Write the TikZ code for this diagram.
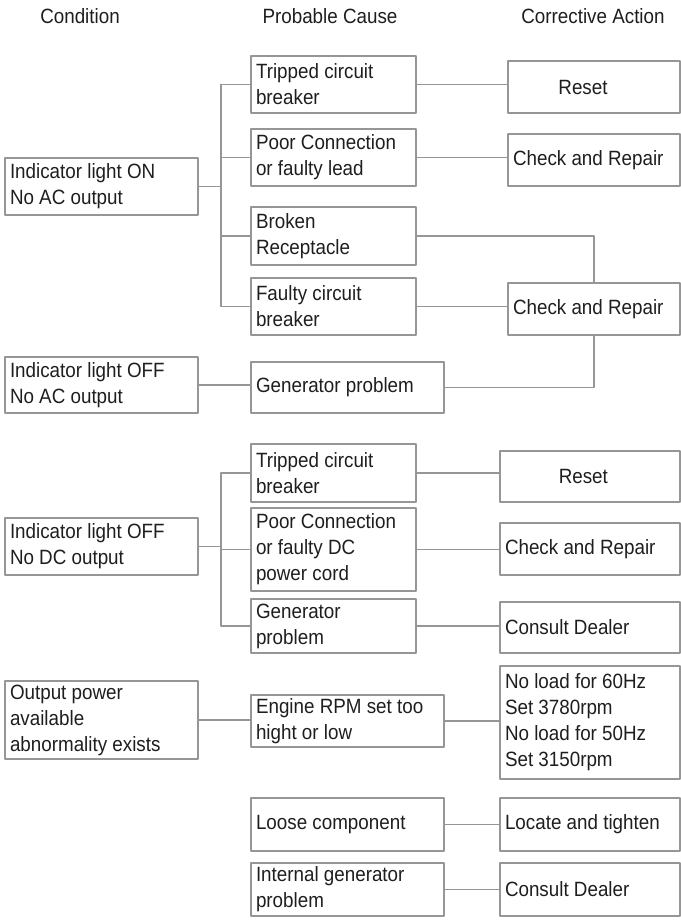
\documentclass[tikz,border=0pt]{standalone}
\usepackage{fontspec}
\setmainfont{Liberation Sans}[FakeStretch=0.91]
\definecolor{linegray}{RGB}{150,150,150}
\definecolor{txtcol}{RGB}{30,30,30}

\begin{document}
\begin{tikzpicture}[x=0.75pt, y=-0.75pt, line cap=round, line join=round]
    % branch line x position
    \def\bx{221}

    \tikzset{
        box/.style={draw=linegray, line width=0.8pt, inner xsep=3.75pt, inner ysep=0pt,
            align=flush left, text=txtcol, font=\fontsize{15.5pt}{19.5pt}\selectfont},
        condbox/.style={box, text width=137.25pt},
        causebox/.style={box, text width=116.25pt},
        causewide/.style={box, text width=137.25pt},
        actbox/.style={box, text width=121.5pt},
        actwide/.style={box, text width=127.5pt},
        head/.style={text=txtcol, font=\fontsize{15.5pt}{18pt}\selectfont},
        link/.style={draw=linegray, line width=0.8pt}
    }

    \useasboundingbox (0,0) rectangle (681,920);

    % headers
    \node[head] (hcond)  at (80,16)  {Condition};
    \node[head] (hcause) at (330,16) {Probable Cause};
    \node[head] (hact)   at (593,16) {Corrective Action};

    % indicator light ON / OFF, no AC output
    \node[condbox, minimum height=42.75pt] (c1) at (101.5,186.5) {Indicator light ON\\No AC output};
    \node[causebox, minimum height=42.75pt] (p1) at (333.5,84.5) {Tripped circuit\\breaker};
    \node[causebox, minimum height=42.75pt] (p2) at (333.5,157.5) {Poor Connection\\or faulty lead};
    \node[causebox, minimum height=43.5pt] (p3) at (333.5,236) {Broken\\Receptacle};
    \node[causebox, minimum height=42.75pt] (p4) at (333.5,306.5) {Faulty circuit\\breaker};
    \node[actbox, align=center, minimum height=39pt] (a1) at (594,87) {\hspace*{-16.5pt}Reset};
    \node[actbox, minimum height=39pt] (a2) at (594,160) {Check and Repair};
    \node[actbox, minimum height=39pt] (a3) at (594,309) {Check and Repair};
    \node[condbox, minimum height=42pt] (c2) at (101.5,385) {Indicator light OFF\\No AC output};
    \node[causewide, minimum height=38.25pt] (p5) at (347.5,387.5) {Generator problem};

    \coordinate (b1) at (\bx,186.5);
    \draw[link] (c1.east) -- (b1);
    \draw[link] (b1) |- (p1.west);
    \draw[link] (b1) |- (p2.west);
    \draw[link] (b1) |- (p3.west);
    \draw[link] (b1) |- (p4.west);
    \draw[link] (p1.east) -- (p1.east -| a1.west);
    \draw[link] (p2.east) -- (p2.east -| a2.west);
    \draw[link] (p3.east) -| (a3.north);
    \draw[link] (p4.east) -- (p4.east -| a3.west);
    \draw[link] (c2.east) -- (c2.east -| p5.west);
    \draw[link] (p5.east) -| (a3.south);

    % indicator light OFF, no DC output
    \node[condbox, minimum height=42.75pt] (c3) at (101.5,546.5) {Indicator light OFF\\No DC output};
    \node[causebox, minimum height=43.5pt] (p6) at (333.5,473) {Tripped circuit\\breaker};
    \node[causebox, minimum height=62.25pt] (p7) at (333.5,549.5) {Poor Connection\\or faulty DC\\power cord};
    \node[causebox, minimum height=40.5pt] (p8) at (333.5,626) {Generator\\problem};
    \node[actwide, align=center, minimum height=38.25pt] (a4) at (590,476.5) {\hspace*{-10pt}Reset};
    \node[actwide, minimum height=39pt] (a5) at (590,549) {Check and Repair};
    \node[actwide, minimum height=38.25pt] (a6) at (590,627.5) {Consult Dealer};

    \coordinate (b2) at (\bx,546.5);
    \draw[link] (c3.east) -- (b2);
    \draw[link] (b2) |- (p6.west);
    \draw[link] (b2) |- (p7.west);
    \draw[link] (b2) |- (p8.west);
    \draw[link] (p6.east) -- (p6.east -| a4.west);
    \draw[link] (p7.east) -- (p7.east -| a5.west);
    \draw[link] (p8.east) -- (p8.east -| a6.west);

    % output power abnormality
    \node[condbox, minimum height=58.5pt] (c4) at (101.5,720) {Output power\\available\\abnormality exists};
    \node[causewide, minimum height=39pt] (p9) at (347.5,721) {Engine RPM set too\\hight or low};
    \node[actwide, minimum height=84.75pt] (a7) at (590,722.5) {No load for 60Hz\\Set 3780rpm\\No load for 50Hz\\Set 3150rpm};
    \node[causewide, minimum height=39.75pt] (p10) at (347.5,824.5) {Loose component};
    \node[actwide, minimum height=39.75pt] (a8) at (590,824.5) {Locate and tighten};
    \node[causewide, minimum height=39.75pt] (p11) at (347.5,889.5) {Internal generator\\problem};
    \node[actwide, minimum height=39.75pt] (a9) at (590,889.5) {Consult Dealer};

    \draw[link] (c4.east) -- (c4.east -| p9.west);
    \draw[link] (p9.east) -- (p9.east -| a7.west);
    \draw[link] (p10.east) -- (a8.west);
    \draw[link] (p11.east) -- (a9.west);
\end{tikzpicture}
\end{document}
